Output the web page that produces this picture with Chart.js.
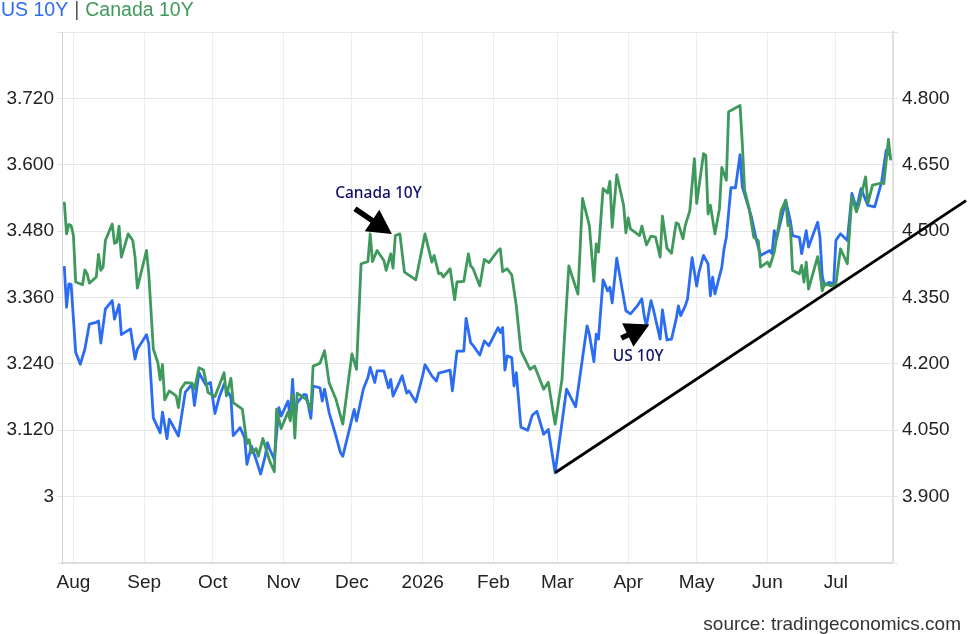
<!DOCTYPE html>
<html>
<head>
<meta charset="utf-8">
<script src="https://cdn.jsdelivr.net/npm/chart.js@4.4.0/dist/chart.umd.min.js"></script>
<style>
html,body{margin:0;padding:0;background:#fff;}
canvas{display:block;}
</style>
</head>
<body>
<canvas id="c" width="968" height="634"></canvas>
<script>
// ---- data (day = days since 2025-08-01) ----
const canadaDays = [-4,-3,-2,-1,0,1,4,5,6,7,10,11,12,13,14,17,18,19,20,21,24,26,27,28,32,33,35,37,38,39,40,42,45,46,47,49,52,53,55,57,59,62,66,67,69,70,74,76,77,78,80,81,83,86,88,89,91,94,95,96,97,98,102,104,105,108,110,112,115,118,122,124,126,129,130,131,133,136,137,139,140,141,143,145,150,154,157,158,160,161,162,165,167,168,171,173,174,175,178,180,182,186,187,188,190,192,194,196,200,202,206,208,211,214,217,221,223,226,228,229,230,232,234,235,236,238,241,242,243,244,248,249,251,253,255,257,258,260,262,264,265,267,268,270,272,273,276,277,278,279,281,283,284,286,287,292,293,294,296,298,300,301,304,305,307,310,312,313,314,315,318,319,320,321,322,326,327,328,329,332,334,336,339,341,343,344,347,348,350,354,355,357,358];
const canadaYield = [3.533,3.475,3.492,3.490,3.472,3.388,3.383,3.410,3.403,3.386,3.397,3.438,3.409,3.415,3.463,3.493,3.458,3.460,3.489,3.433,3.475,3.463,3.433,3.377,3.445,3.403,3.267,3.242,3.211,3.239,3.175,3.191,3.182,3.161,3.194,3.206,3.205,3.194,3.233,3.229,3.188,3.181,3.224,3.182,3.214,3.170,3.158,3.096,3.103,3.079,3.087,3.073,3.105,3.064,3.045,3.158,3.123,3.153,3.137,3.185,3.106,3.187,3.176,3.158,3.236,3.241,3.264,3.206,3.176,3.131,3.258,3.230,3.421,3.425,3.475,3.425,3.445,3.427,3.409,3.439,3.413,3.472,3.475,3.406,3.392,3.475,3.424,3.436,3.403,3.404,3.397,3.412,3.356,3.388,3.389,3.439,3.417,3.413,3.381,3.429,3.423,3.445,3.448,3.407,3.412,3.401,3.345,3.264,3.230,3.236,3.194,3.207,3.131,3.212,3.417,3.366,3.539,3.490,3.389,3.457,3.442,3.557,3.549,3.570,3.487,3.582,3.527,3.477,3.504,3.484,3.472,3.489,3.455,3.471,3.469,3.433,3.507,3.449,3.440,3.495,3.493,3.466,3.490,3.517,3.611,3.530,3.620,3.617,3.511,3.527,3.475,3.521,3.595,3.572,3.696,3.707,3.638,3.554,3.521,3.469,3.463,3.415,3.424,3.416,3.442,3.517,3.536,3.490,3.490,3.409,3.403,3.418,3.388,3.424,3.375,3.434,3.406,3.372,3.385,3.381,3.385,3.448,3.421,3.542,3.515,3.527,3.578,3.530,3.563,3.567,3.566,3.646,3.608];

const usDays = [-4,-3,-2,-1,1,3,5,7,10,11,12,14,17,18,20,21,25,27,28,32,33,35,38,39,41,42,46,49,52,53,55,58,60,62,64,66,69,70,73,75,76,78,80,82,84,85,86,88,90,91,94,95,96,97,98,101,102,104,105,108,109,110,112,115,117,118,123,124,127,129,130,132,133,136,138,139,140,144,146,147,150,153,154,157,159,160,165,166,168,171,172,174,175,178,180,182,186,187,188,189,190,192,193,194,196,199,201,203,206,208,211,214,216,220,225,226,228,229,230,232,234,235,236,238,242,244,247,249,250,251,253,254,257,258,260,262,264,265,266,268,269,271,273,274,276,278,279,280,281,284,285,286,288,290,292,293,297,299,301,305,306,307,308,312,314,315,318,319,321,322,326,327,328,329,331,333,334,336,339,341,343,345,348,351,354,356,358];
const usYield = [4.421,4.328,4.381,4.379,4.226,4.199,4.233,4.290,4.294,4.297,4.247,4.324,4.343,4.301,4.334,4.266,4.279,4.211,4.233,4.266,4.245,4.078,4.044,4.091,4.031,4.075,4.037,4.136,4.154,4.106,4.180,4.152,4.158,4.088,4.127,4.154,4.124,4.038,4.056,4.033,3.973,4.014,3.984,3.951,3.991,4.022,4.007,3.984,4.101,4.082,4.116,4.078,4.165,4.075,4.112,4.131,4.130,4.077,4.150,4.146,4.116,4.143,4.090,4.037,3.999,3.991,4.097,4.071,4.143,4.169,4.192,4.158,4.184,4.184,4.146,4.165,4.127,4.173,4.134,4.139,4.114,4.174,4.198,4.173,4.161,4.179,4.186,4.139,4.229,4.229,4.303,4.248,4.242,4.220,4.252,4.241,4.282,4.271,4.282,4.186,4.218,4.214,4.150,4.180,4.057,4.050,4.084,4.093,4.041,4.052,3.954,4.067,4.143,4.103,4.286,4.267,4.205,4.267,4.256,4.390,4.365,4.373,4.338,4.439,4.320,4.313,4.331,4.347,4.309,4.286,4.343,4.324,4.256,4.322,4.254,4.256,4.301,4.331,4.309,4.331,4.347,4.440,4.376,4.407,4.445,4.426,4.354,4.396,4.358,4.418,4.460,4.486,4.598,4.598,4.673,4.600,4.532,4.483,4.445,4.456,4.449,4.501,4.483,4.569,4.524,4.490,4.486,4.449,4.501,4.464,4.520,4.486,4.399,4.377,4.384,4.381,4.479,4.494,4.479,4.585,4.551,4.596,4.558,4.555,4.611,4.683,4.668];

// hand-drawn support line on the US axis
const trendDays = [211, 391];
const trendUS = [3.954, 4.569];

const monthTickDates = ['2025-08-01','2025-09-01','2025-10-01','2025-11-01','2025-12-01','2026-01-01','2026-02-01','2026-03-01','2026-04-01','2026-05-01','2026-06-01','2026-07-01'];
const monthTickLabels = ['Aug','Sep','Oct','Nov','Dec','2026','Feb','Mar','Apr','May','Jun','Jul'];

const leftTickValues = [2.88,3,3.12,3.24,3.36,3.48,3.6,3.72,3.84];
const leftTickLabels = ['','3','3.120','3.240','3.360','3.480','3.600','3.720',''];
const rightTickValues = [3.75,3.9,4.05,4.2,4.35,4.5,4.65,4.8,4.95];
const rightTickLabels = ['','3.900','4.050','4.200','4.350','4.500','4.650','4.800',''];

// ---- styling / annotation anchors (data coordinates) ----
const BLUE = '#2c6cf2';
const GREEN = '#3f995c';
const NAVY = '#10126a';
const notes = {
  canada: {text:'Canada 10Y', axis:'yL', label:[133.6, 3.548], tail:[123.3, 3.5205], tip:[139.5, 3.475]},
  us:     {text:'US 10Y', axis:'yR', label:[247.4, 4.2163], tail:[240.0, 4.2582], tip:[252.3, 4.2888]}
};

const base = Date.UTC(2025, 7, 1);
const dayOf = s => (Date.parse(s + 'T00:00:00Z') - base) / 86400000;
const monthDays = monthTickDates.map(dayOf);

const zip = (xs, ys) => xs.map((x, i) => ({x, y: ys[i]}));

Chart.defaults.font.family = '"Liberation Sans", Arial, sans-serif';

function drawArrow(ctx, x1, y1, x2, y2, headLen, headW, shaftW) {
  const dx = x2 - x1, dy = y2 - y1, L = Math.hypot(dx, dy);
  const ux = dx / L, uy = dy / L;
  const bx = x2 - ux * headLen, by = y2 - uy * headLen;
  ctx.save();
  ctx.strokeStyle = '#000';
  ctx.fillStyle = '#000';
  ctx.lineWidth = shaftW;
  ctx.beginPath();
  ctx.moveTo(x1, y1);
  ctx.lineTo(bx + ux * 2, by + uy * 2);
  ctx.stroke();
  ctx.beginPath();
  ctx.moveTo(x2, y2);
  ctx.lineTo(bx - uy * headW / 2, by + ux * headW / 2);
  ctx.lineTo(bx + uy * headW / 2, by - ux * headW / 2);
  ctx.closePath();
  ctx.fill();
  ctx.restore();
}

const overlay = {
  id: 'overlay',
  afterDatasetsDraw(chart) {
    const ctx = chart.ctx, sx = chart.scales.x;
    Object.values(notes).forEach(n => {
      const sy = chart.scales[n.axis];
      const P = p => [sx.getPixelForValue(p[0]), sy.getPixelForValue(p[1])];
      const [tx, ty] = P(n.tail), [hx, hy] = P(n.tip), [lx, ly] = P(n.label);
      drawArrow(ctx, tx, ty, hx, hy, 24, 26, 5.5);
      ctx.save();
      ctx.font = '500 15.5px "Noto Sans", sans-serif';
      ctx.fillStyle = NAVY;
      ctx.textAlign = 'center';
      ctx.textBaseline = 'middle';
      ctx.fillText(n.text, lx, ly);
      ctx.restore();
    });
  },
  afterDraw(chart) {
    const ctx = chart.ctx;
    ctx.save();
    ctx.font = '19.5px "Liberation Sans", Arial, sans-serif';
    ctx.textBaseline = 'alphabetic';
    ctx.textAlign = 'left';
    let x = 1;
    const y = 16;
    ctx.fillStyle = BLUE;
    ctx.fillText('US 10Y', x, y);
    x += ctx.measureText('US 10Y').width + 6;
    ctx.fillStyle = '#555';
    ctx.fillText('|', x, y);
    x += ctx.measureText('|').width + 6;
    ctx.fillStyle = GREEN;
    ctx.fillText('Canada 10Y', x, y);
    ctx.font = '19px "Liberation Sans", Arial, sans-serif';
    ctx.fillStyle = '#333';
    ctx.textAlign = 'right';
    ctx.fillText('source: tradingeconomics.com', 961, 630);
    ctx.restore();
  }
};

new Chart(document.getElementById('c'), {
  type: 'line',
  data: {
    datasets: [
      {label: 'Trend', data: zip(trendDays, trendUS), yAxisID: 'yR', borderColor: '#000', borderWidth: 2.8, pointRadius: 0, clip: false, order: 0},
      {label: 'Canada 10Y', data: zip(canadaDays, canadaYield), yAxisID: 'yL', borderColor: GREEN, borderWidth: 2.8, pointRadius: 0, order: 1},
      {label: 'US 10Y', data: zip(usDays, usYield), yAxisID: 'yR', borderColor: BLUE, borderWidth: 2.8, pointRadius: 0, order: 2}
    ]
  },
  options: {
    responsive: false,
    animation: false,
    devicePixelRatio: 1,
    layout: {padding: {top: 32, left: 0, right: 0, bottom: 0}},
    elements: {line: {tension: 0, borderJoinStyle: 'round'}},
    plugins: {legend: {display: false}, tooltip: {enabled: false}},
    scales: {
      x: {
        type: 'linear', min: -5, max: 359,
        afterBuildTicks: s => { s.ticks = monthDays.map(v => ({value: v})); },
        afterFit: s => { s.height = 71; },
        ticks: {callback: (v, i) => monthTickLabels[i], autoSkip: false, maxRotation: 0, padding: 8, color: '#222', font: {size: 19}},
        grid: {color: '#e8eef1', drawTicks: false, lineWidth: 1},
        border: {color: '#dcdcdc', width: 2}
      },
      yL: {
        type: 'linear', position: 'left', min: 2.88, max: 3.84,
        afterBuildTicks: s => { s.ticks = leftTickValues.map(v => ({value: v})); },
        afterFit: s => { s.width = 62; },
        ticks: {callback: (v, i) => leftTickLabels[i], padding: 3, color: '#222', font: {size: 19}},
        grid: {color: '#e6e6e6', tickLength: 5, lineWidth: 1},
        border: {color: '#d0d0d0', width: 1}
      },
      yR: {
        type: 'linear', position: 'right', min: 3.75, max: 4.95,
        afterBuildTicks: s => { s.ticks = rightTickValues.map(v => ({value: v})); },
        afterFit: s => { s.width = 75; },
        ticks: {callback: (v, i) => rightTickLabels[i], padding: 4, color: '#222', font: {size: 19}},
        grid: {color: '#e6e6e6', tickLength: 5, drawOnChartArea: false},
        border: {color: '#e0e0e0', width: 2}
      }
    }
  },
  plugins: [overlay]
});
</script>
</body>
</html>
